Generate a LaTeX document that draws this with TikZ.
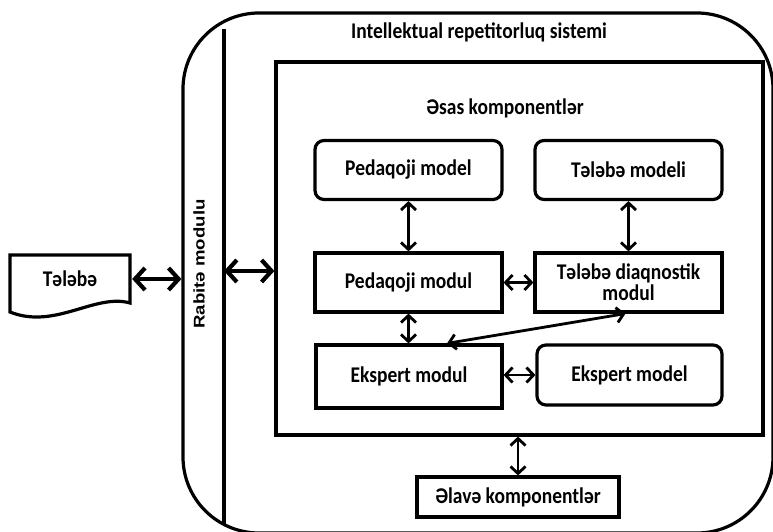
\documentclass[tikz,border=0pt]{standalone}
\usepackage{fontspec}
\setmainfont{Carlito}
\newfontfamily\rabfont{Liberation Sans}
\usetikzlibrary{arrows.meta}
\newcommand{\vs}[1]{\scalebox{1}[1.15]{#1}}
\tikzset{
  boxline/.style={draw, line width=3.2pt},
  sqbox/.style={boxline, rectangle, inner sep=0pt, minimum width=187pt, minimum height=59pt,
     font=\fontsize{19.5}{22}\selectfont\bfseries, align=center},
  rbox/.style={sqbox, rounded corners=9pt},
  lbl/.style={inner sep=0pt, font=\fontsize{19.5}{22}\selectfont\bfseries},
  bigarr/.style={line width=4.2pt, {Straight Barb[length=10pt,width=22pt]}-{Straight Barb[length=10pt,width=22pt]}},
  smarr/.style={line width=2.8pt, {Straight Barb[length=7pt,width=15pt]}-{Straight Barb[length=7pt,width=15pt]}},
}
\begin{document}
\begin{tikzpicture}[x=1pt,y=-1pt]
\useasboundingbox (0,0) rectangle (773,532);
\fill[white] (0,0) rectangle (773,532);
% outer system
\node[draw, line width=3.2pt, rectangle, rounded corners=76pt, inner sep=0pt,
      minimum width=590pt, minimum height=520pt] (outer) at (478,273) {};
\node[lbl] (title) at (479,32) {\vs{Intellektual repetitorluq sistemi}};
% divider (Rabita modulu)
\coordinate (divtop) at (224,29);
\coordinate (divbot) at (224,525);
\draw[line width=3.2pt] (divtop) -- (divbot);
\node[rotate=90, inner sep=0pt, font=\rabfont\fontsize{15.5}{18}\selectfont\bfseries] (rab) at (199,264)
   {\scalebox{1.2}[1]{Rabitə modulu}};
% inner rectangle
\node[boxline, rectangle, inner sep=0pt, minimum width=487pt, minimum height=373pt] (inner) at (519.5,248.5) {};
\node[lbl] (esas) at (505,108) {\vs{Əsas komponentlər}};
% boxes
\node[rbox] (pmodel) at (408.5,170) {\vs{Pedaqoji model}};
\node[rbox] (tmodel) at (628.5,170) {\vs{Tələbə modeli}};
\node[sqbox] (pmodul) at (408.5,282.5) {\vs{Pedaqoji modul}};
\node[sqbox, align=center] (diag) at (628.5,282.5) {\vs{Tələbə diaqnostik}\\[-1pt]\vs{modul}};
\node[sqbox, minimum width=186pt, minimum height=63pt] (emodul) at (409,376.5) {\vs{Ekspert modul}};
\node[rbox, minimum width=185pt, minimum height=60pt] (emodel) at (629.5,375) {\vs{Ekspert model}};
\node[sqbox, minimum width=202pt, minimum height=40pt] (elave) at (518,497) {\vs{Əlavə komponentlər}};
% student document
\node[lbl, minimum width=120pt, minimum height=48pt] (tel) at (70,279) {\vs{Tələbə}};
\draw[line width=3.2pt, line join=miter] (10,255) -- (130,255) -- (130,303)
   .. controls (95,293) and (55,330) .. (10,312) -- cycle;
% arrows
\coordinate (d1) at (224,271);
\draw[bigarr, shorten <=2pt] (tel.east) -- (tel.east -| outer.west);
\draw[bigarr] (d1) -- (d1 -| inner.west);
\draw[smarr] (pmodel.south) -- (pmodul.north);
\draw[smarr] (tmodel.south) -- (diag.north);
\draw[smarr] (pmodul.east) -- (diag.west);
\draw[smarr] (pmodul.south) -- (emodul.north -| pmodul.south);
\draw[smarr] ([xshift=38pt]emodul.north) -- ([xshift=-3pt]diag.south);
\draw[smarr] (emodul.east |- emodel.west) -- (emodel.west);
\draw[smarr] (inner.south -| elave.north) -- (elave.north);
\end{tikzpicture}
\end{document}
